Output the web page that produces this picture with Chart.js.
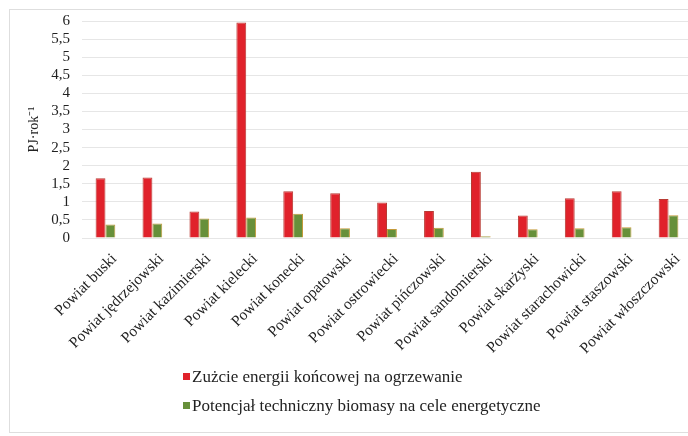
<!DOCTYPE html>
<html>
<head>
<meta charset="utf-8">
<script src="https://cdn.jsdelivr.net/npm/chart.js@4"></script>
<style>
  html, body { margin: 0; padding: 0; background: #fff; overflow: hidden; }
  #wrap { position: relative; width: 688px; height: 436px; overflow: hidden; }
  #frame { position: absolute; left: 9px; top: 9px; width: 690px; height: 424px;
           border: 1px solid #dedede; box-sizing: border-box; pointer-events: none; }
  #chart { position: absolute; left: 0; top: 0; }
  #legend { position: absolute; left: 183px; top: 362px; font-family: 'Liberation Serif', serif;
            font-size: 17px; color: #222; line-height: 29px; }
  #legend .sw { display: inline-block; width: 7px; height: 7px; margin-right: 2px; vertical-align: 2px; }
</style>
</head>
<body>
<div id="wrap">
  <canvas id="chart" width="694" height="436"></canvas>
  <div id="frame"></div>
  <div id="legend"></div>
</div>
<script>
// --- Données (PJ/rok) ---
const powiaty = [
  'Powiat buski', 'Powiat jędrzejowski', 'Powiat kazimierski', 'Powiat kielecki',
  'Powiat konecki', 'Powiat opatowski', 'Powiat ostrowiecki', 'Powiat pińczowski',
  'Powiat sandomierski', 'Powiat skarżyski', 'Powiat starachowicki', 'Powiat staszowski',
  'Powiat włoszczowski'
];
const zuzycieEnergii = [1.65, 1.67, 0.73, 5.96, 1.29, 1.24, 0.98, 0.75, 1.83, 0.62, 1.10, 1.29, 1.08];
const potencjalBiomasy = [0.37, 0.40, 0.54, 0.57, 0.67, 0.27, 0.25, 0.28, 0.05, 0.24, 0.27, 0.30, 0.63];
const yTickLabels = ['0', '0,5', '1', '1,5', '2', '2,5', '3', '3,5', '4', '4,5', '5', '5,5', '6'];

const serif = "'Liberation Serif', 'Times New Roman', serif";

const datasets = [
  {
    label: 'Zużcie energii końcowej na ogrzewanie',
    data: zuzycieEnergii,
    backgroundColor: '#e0222b',
    borderColor: '#b83a33',
    borderWidth: 1
  },
  {
    label: 'Potencjał techniczny biomasy na cele energetyczne',
    data: potencjalBiomasy,
    backgroundColor: '#67903a',
    borderColor: '#c39a3a',
    borderWidth: 1
  }
];

const chart = new Chart(document.getElementById('chart'), {
  type: 'bar',
  data: { labels: powiaty, datasets: datasets },
  options: {
    responsive: false,
    animation: false,
    devicePixelRatio: 1,
    layout: { padding: { top: 18, right: 2, left: 0, bottom: 0 } },
    datasets: { bar: { categoryPercentage: 0.42, barPercentage: 1 } },
    plugins: {
      legend: { display: false },
      tooltip: { enabled: false }
    },
    scales: {
      x: {
        grid: { display: false },
        border: { display: false },
        ticks: {
          minRotation: 45, maxRotation: 45, autoSkip: false,
          labelOffset: 9, padding: 4,
          color: '#222', font: { family: serif, size: 15.5 }
        },
        afterFit: (scale) => { scale.height = 198; }
      },
      y: {
        min: 0, max: 6,
        grid: { color: '#e6e6e6', drawTicks: false },
        border: { display: false },
        ticks: {
          stepSize: 0.5, padding: 12, autoSkip: false, maxTicksLimit: 20,
          color: '#222', font: { family: serif, size: 15 },
          callback: (v, i) => yTickLabels[i]
        },
        title: {
          display: true, text: 'PJ·rok⁻¹',
          color: '#222', font: { family: serif, size: 14 }, padding: { top: 26, bottom: 0 }
        },
        afterFit: (scale) => { scale.width = 82; }
      }
    }
  }
});

// --- Légende HTML (affichée en colonne comme dans l'original) ---
const legendBox = document.getElementById('legend');
datasets.forEach(ds => {
  const row = document.createElement('div');
  row.innerHTML = `<span class="sw" style="background:${ds.backgroundColor}"></span>${ds.label}`;
  legendBox.appendChild(row);
});
</script>
</body>
</html>
